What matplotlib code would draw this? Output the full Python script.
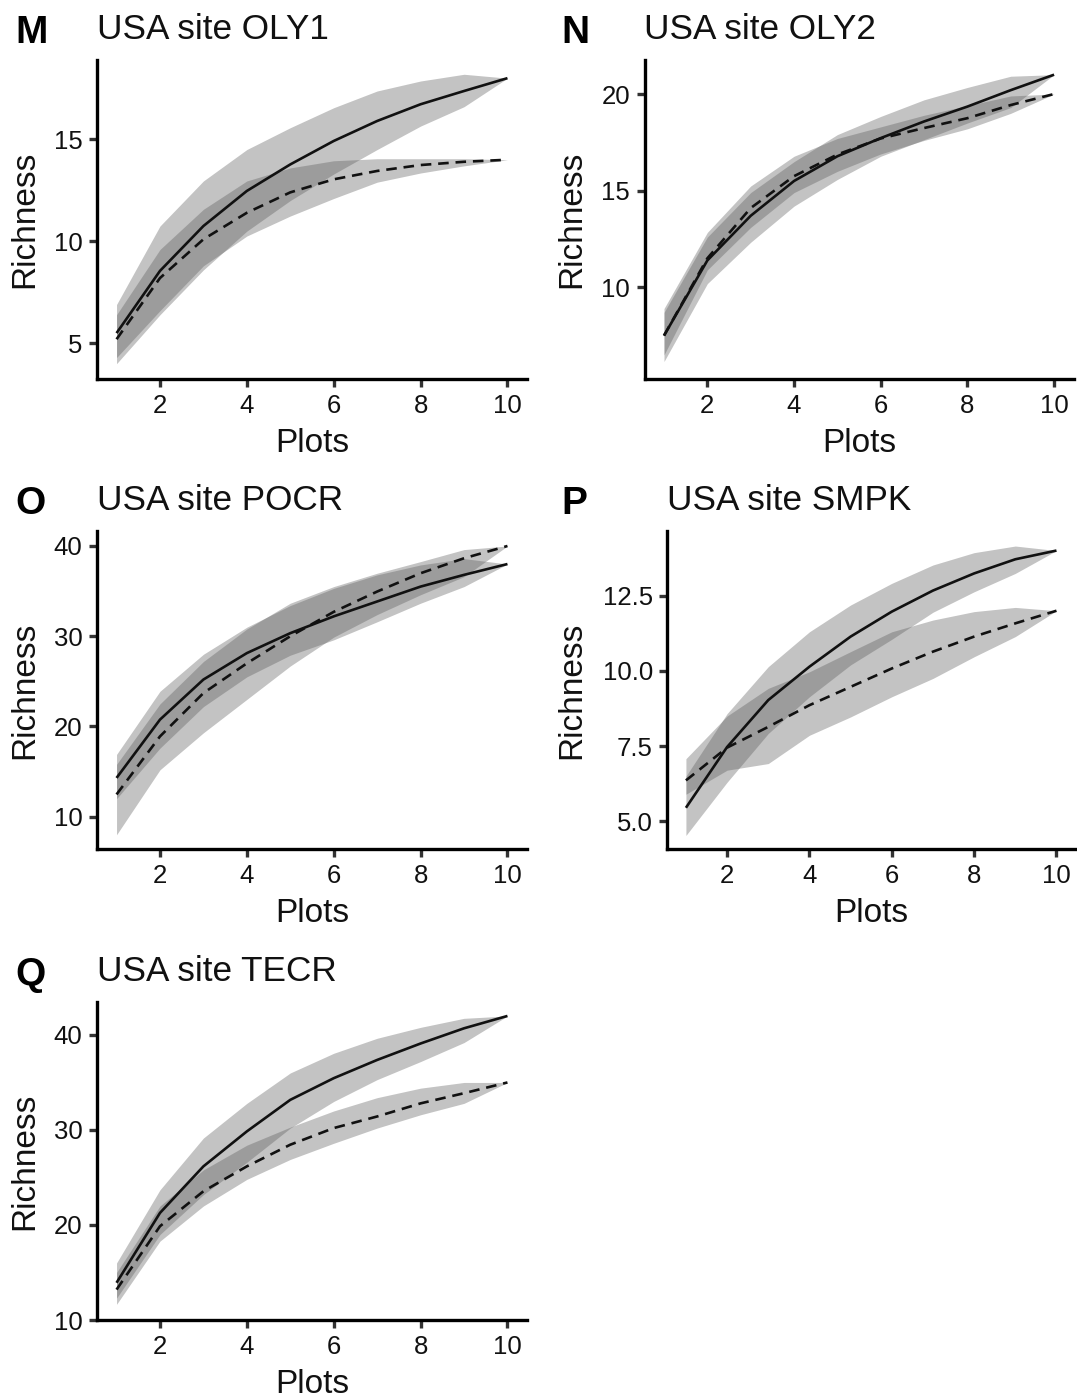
import matplotlib
matplotlib.use("Agg")
import matplotlib.pyplot as plt

plt.rcParams['font.family'] = ['Liberation Sans', 'DejaVu Sans']

plots = [1, 2, 3, 4, 5, 6, 7, 8, 9, 10]
xticks = [2, 4, 6, 8, 10]

# ---- M: OLY1 ----
M_solid = [5.5, 8.55, 10.75, 12.47, 13.77, 14.92, 15.9, 16.72, 17.37, 18.0]
M_solid_lo = [4.0, 6.4, 8.6, 10.5, 12.0, 13.3, 14.5, 15.65, 16.6, 18.0]
M_solid_hi = [6.9, 10.75, 12.96, 14.5, 15.57, 16.55, 17.37, 17.86, 18.19, 18.0]
M_dash = [5.2, 8.2, 10.1, 11.4, 12.4, 13.04, 13.45, 13.74, 13.9, 14.0]
M_dash_lo = [4.3, 6.6, 8.8, 10.26, 11.24, 12.1, 12.9, 13.35, 13.7, 14.0]
M_dash_hi = [6.4, 9.6, 11.57, 12.96, 13.6, 13.95, 14.05, 14.05, 14.05, 14.0]
M_yticks = [5, 10, 15]

# ---- N: OLY2 ----
N_solid = [7.5, 11.39, 13.7, 15.5, 16.78, 17.72, 18.58, 19.35, 20.2, 21.0]
N_solid_lo = [6.16, 10.19, 12.33, 14.2, 15.58, 16.78, 17.64, 18.5, 19.3, 21.0]
N_solid_hi = [8.7, 12.6, 14.9, 16.5, 17.9, 18.84, 19.7, 20.34, 20.92, 21.0]
N_dash = [7.5, 11.5, 14.1, 15.75, 16.87, 17.7, 18.24, 18.75, 19.43, 20.0]
N_dash_lo = [6.5, 10.9, 13.1, 14.9, 16.0, 16.9, 17.6, 18.2, 19.0, 20.0]
N_dash_hi = [8.9, 12.84, 15.24, 16.78, 17.7, 18.3, 18.9, 19.4, 19.9, 20.0]
N_yticks = [10, 15, 20]

# ---- O: POCR ----
O_solid = [14.3, 20.76, 25.2, 28.13, 30.34, 32.2, 33.85, 35.5, 36.8, 38.0]
O_solid_lo = [12.0, 17.6, 22.2, 25.5, 27.9, 29.6, 31.6, 33.66, 35.5, 38.0]
O_solid_hi = [16.9, 23.9, 28.0, 31.0, 33.4, 35.3, 36.8, 37.9, 38.6, 38.0]
O_dash = [12.47, 18.9, 23.7, 27.0, 30.0, 32.7, 34.95, 36.98, 38.64, 40.0]
O_dash_lo = [8.0, 15.2, 19.3, 23.0, 26.7, 29.9, 32.4, 34.6, 36.6, 40.0]
O_dash_hi = [15.8, 22.5, 27.2, 30.8, 33.66, 35.5, 36.98, 38.27, 39.6, 40.0]
O_yticks = [10, 20, 30, 40]

# ---- P: SMPK ----
P_solid = [5.45, 7.47, 9.03, 10.14, 11.14, 11.97, 12.67, 13.24, 13.71, 14.0]
P_solid_lo = [4.53, 6.3, 7.92, 9.14, 10.2, 11.05, 11.95, 12.63, 13.24, 14.0]
P_solid_hi = [6.5, 8.58, 10.14, 11.3, 12.19, 12.91, 13.52, 13.93, 14.15, 14.0]
P_dash = [6.36, 7.45, 8.14, 8.86, 9.47, 10.08, 10.64, 11.14, 11.58, 12.0]
P_dash_lo = [5.9, 6.7, 6.92, 7.86, 8.47, 9.14, 9.75, 10.47, 11.14, 12.0]
P_dash_hi = [7.08, 8.5, 9.42, 9.97, 10.64, 11.3, 11.69, 11.97, 12.11, 12.0]
P_yticks = [5.0, 7.5, 10.0, 12.5]

# ---- Q: TECR ----
Q_solid = [13.92, 21.27, 26.17, 29.85, 33.17, 35.45, 37.37, 39.1, 40.7, 42.0]
Q_solid_lo = [12.3, 19.0, 23.2, 26.6, 30.2, 33.0, 35.3, 37.2, 39.2, 42.0]
Q_solid_hi = [16.0, 23.7, 29.15, 32.8, 36.0, 38.07, 39.65, 40.8, 41.75, 42.0]
Q_dash = [13.2, 19.87, 23.55, 26.17, 28.45, 30.2, 31.42, 32.8, 33.87, 35.0]
Q_dash_lo = [11.65, 18.3, 22.0, 24.8, 26.9, 28.6, 30.2, 31.6, 32.8, 35.0]
Q_dash_hi = [15.0, 22.0, 25.8, 28.4, 30.3, 32.0, 33.4, 34.4, 35.0, 35.0]
Q_yticks = [10, 20, 30, 40]

W, H = 1077, 1399
fig = plt.figure(figsize=(W / 100, H / 100), dpi=100)

# layout in pixels: (left, top, right, bottom), letter x, ylim, label x (px)
panels = [
    dict(letter='M', title='USA site OLY1', rect=(97, 60, 527, 379.3), lx=15,
         ylim=(3.235, 18.89), yt=M_yticks, fmt='{:g}',
         s=M_solid, slo=M_solid_lo, shi=M_solid_hi, d=M_dash, dlo=M_dash_lo, dhi=M_dash_hi, ylx=25),
    dict(letter='N', title='USA site OLY2', rect=(644.5, 60, 1073.6, 379.3), lx=561,
         ylim=(5.24, 21.76), yt=N_yticks, fmt='{:g}',
         s=N_solid, slo=N_solid_lo, shi=N_solid_hi, d=N_dash, dlo=N_dash_lo, dhi=N_dash_hi, ylx=572),
    dict(letter='O', title='USA site POCR', rect=(97, 531, 527, 849.3), lx=15,
         ylim=(6.39, 41.66), yt=O_yticks, fmt='{:g}',
         s=O_solid, slo=O_solid_lo, shi=O_solid_hi, d=O_dash, dlo=O_dash_lo, dhi=O_dash_hi, ylx=25),
    dict(letter='P', title='USA site SMPK', rect=(667.4, 531, 1075, 849.3), lx=561,
         ylim=(4.07, 14.65), yt=P_yticks, fmt='{:.1f}',
         s=P_solid, slo=P_solid_lo, shi=P_solid_hi, d=P_dash, dlo=P_dash_lo, dhi=P_dash_hi, ylx=572),
    dict(letter='Q', title='USA site TECR', rect=(97, 1001.7, 527, 1320), lx=15,
         ylim=(10.0, 43.5), yt=Q_yticks, fmt='{:g}',
         s=Q_solid, slo=Q_solid_lo, shi=Q_solid_hi, d=Q_dash, dlo=Q_dash_lo, dhi=Q_dash_hi, ylx=25),
]

ribbon_col = (0.35, 0.35, 0.35)
for p in panels:
    l, t, r, b = p['rect']
    ax = fig.add_axes([l / W, 1 - b / H, (r - l) / W, (b - t) / H])
    ax.fill_between(plots, p['slo'], p['shi'], color=ribbon_col, alpha=0.36, linewidth=0)
    ax.fill_between(plots, p['dlo'], p['dhi'], color=ribbon_col, alpha=0.36, linewidth=0)
    ax.plot(plots, p['s'], color='#111111', lw=1.9, solid_capstyle='butt', solid_joinstyle='round')
    ax.plot(plots, p['d'], color='#111111', lw=1.9, linestyle=(0, (4, 2.6)))
    ax.set_xlim(0.55, 10.45)
    ax.set_ylim(*p['ylim'])
    ax.set_xticks(xticks)
    ax.set_xticklabels([str(v) for v in xticks])
    ax.set_yticks(p['yt'])
    ax.set_yticklabels([p['fmt'].format(v) for v in p['yt']])
    for s in ['top', 'right']:
        ax.spines[s].set_visible(False)
    for s in ['left', 'bottom']:
        ax.spines[s].set_linewidth(2.4)
        ax.spines[s].set_color('black')
        ax.spines[s].set_capstyle('projecting')
    ax.tick_params(length=6, width=2.4, color='#333333', labelsize=18.5,
                   pad=4.5, labelcolor='#111111')
    ax.set_xlabel('Plots', fontsize=24, color='#111111')
    ax.xaxis.label.set_va('baseline')
    ax.xaxis.set_label_coords(0.5, -73.0 / (b - t))
    ax.set_ylabel('Richness', fontsize=24, color='#111111')
    ax.yaxis.label.set_va('center')
    ax.yaxis.set_label_coords((p['ylx'] - l) / (r - l), 0.5)
    # panel letter and title
    fig.text(p['lx'] / W, 1 - (t - 17) / H, p['letter'], fontsize=28,
             fontweight='bold', ha='left', va='baseline', color='black')
    fig.text(l / W, 1 - (t - 20.7) / H, p['title'], fontsize=25.3,
             ha='left', va='baseline', color='#111111')

fig.savefig('out.png', dpi=100)
